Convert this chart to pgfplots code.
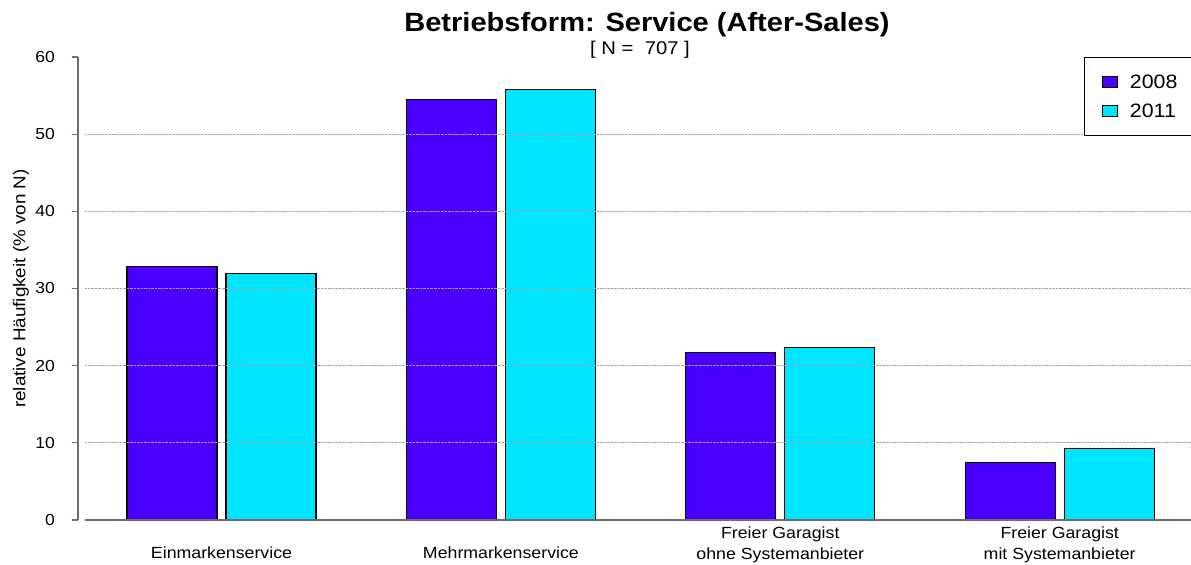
\documentclass[border=0pt]{standalone}
\usepackage{pgfplots}
\pgfplotsset{compat=1.18}
\usepackage{fontspec}
\setmainfont{Liberation Sans}[FakeStretch=1.1]
\definecolor{cA}{HTML}{4B00FF}
\definecolor{cB}{HTML}{00E5FF}
\definecolor{axgray}{HTML}{6E6E6E}
\begin{document}
\begin{tikzpicture}
\begin{axis}[
  at={(85bp,45bp)}, anchor=south west,
  scale only axis, width=1106bp, height=463bp,
  xmin=-0.4886, xmax=3.47, ymin=0, ymax=60,
  axis on top,
  axis x line*=bottom, axis y line*=left,
  x axis line style={draw=axgray, line width=1.2bp},
  y axis line style={draw=none},
  xtick={0,1,2,3},
  xticklabels={{\phantom{X}\\Einmarkenservice},{\phantom{X}\\Mehrmarkenservice},{Freier Garagist\\ohne Systemanbieter},{Freier Garagist\\mit Systemanbieter}},
  xticklabel style={align=center, font=\fontsize{16.2}{20.5}\selectfont, anchor=north, inner sep=0pt, yshift=-7bp},
  x tick style={draw=none},
  ytick={10,20,30,40,50}, yticklabels={,,,,,}, y tick style={draw=none},
  major tick length=0pt,
  ymajorgrids, grid style={densely dotted, black!35, line width=0.8bp},
  ybar=9bp, bar width=90bp,
  legend image code/.code={\draw[#1, draw=black, line width=0.8bp] (0bp,-5.5bp) rectangle (15bp,5.5bp); \path[draw=none, fill=none] (0bp,0bp) -- (25bp,0bp);},
  legend style={at={(0.9033,1)}, anchor=north west, draw=black, line width=1bp, fill=white,
    font=\fontsize{19.5}{21}\selectfont, inner xsep=17bp, inner ysep=14bp, row sep=8bp,
    nodes={inner sep=3bp}},
  legend cell align=left,
]
\addplot[fill=cA, draw=black, line width=1.1bp] coordinates {(0,32.9) (1,54.5) (2,21.7) (3,7.4)};
\addplot[fill=cB, draw=black, line width=1.1bp] coordinates {(0,32.0) (1,55.8) (2,22.4) (3,9.3)};
\legend{2008,2011}
\end{axis}
\begin{axis}[
  at={(78bp,45bp)}, anchor=south west,
  scale only axis, width=10bp, height=463bp,
  xmin=0, xmax=1, ymin=0, ymax=60,
  axis y line*=left, axis x line=none, xtick=\empty,
  ytick={0,10,20,30,40,50,60},
  tick align=outside, major tick length=6bp,
  y axis line style={draw=axgray, line width=1.2bp},
  y tick style={draw=axgray, line width=1.2bp},
  /pgf/number format/assume math mode=true,
  yticklabel style={font=\fontsize{16}{18}\selectfont, anchor=east, inner sep=0pt, xshift=-17bp},
  ylabel={relative Häufigkeit (\% von N)},
  every axis y label/.style={at={(rel axis cs:0,0.5)}, rotate=90, anchor=center, yshift=57bp, font=\fontsize{17.2}{19}\selectfont},
]
\end{axis}
\node[anchor=base, font=\bfseries\fontsize{26.5}{30}\selectfont] at (647bp,533.7bp) {Betriebsform: Service (After-Sales)};
\node[anchor=base, font=\fontsize{18.5}{20}\selectfont] at (640bp,510bp) {[ N = \ 707 ]};
\pgfresetboundingbox
\path[use as bounding box] (0,0) rectangle (1191bp,565bp);
\end{tikzpicture}
\end{document}
